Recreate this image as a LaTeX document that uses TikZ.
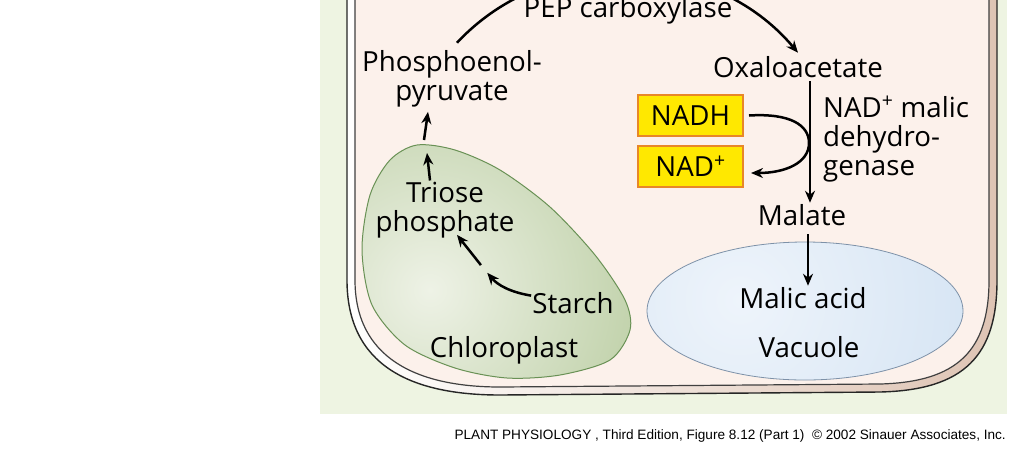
\documentclass[tikz,border=0pt]{standalone}
\usepackage{fontspec}
\setmainfont{Open Sans}
\newfontfamily\creditfont{Liberation Sans}
\usetikzlibrary{arrows.meta}
\definecolor{panelgreen}{RGB}{238,244,226}
\definecolor{cytopink}{RGB}{252,241,235}
\definecolor{walltan}{RGB}{222,196,180}
\definecolor{chlgreen}{RGB}{168,192,138}
\definecolor{chlpale}{RGB}{238,242,230}
\definecolor{chledge}{RGB}{105,145,85}
\definecolor{vacblue}{RGB}{196,217,238}
\definecolor{vacpale}{RGB}{238,244,251}
\definecolor{vacedge}{RGB}{125,145,168}
\definecolor{nadyellow}{RGB}{255,232,0}
\definecolor{nadorange}{RGB}{232,135,40}
\tikzstyle{metab} = [font=\fontsize{27.7}{29}\selectfont, inner sep=1pt, align=center]
\tikzstyle{cofbox} = [draw=nadorange, fill=nadyellow, line width=2pt,
    minimum width=105pt, minimum height=41pt, font=\fontsize{27.7}{29}\selectfont]
\tikzstyle{flow} = [line width=2.5pt, -{Stealth[length=12pt,width=10pt]}]

\begin{document}
\begin{tikzpicture}[x=1pt,y=-1pt]
\useasboundingbox (0,0) rectangle (1024,456);
\clip (0,0) rectangle (1024,456);
% panel and cell
\fill[panelgreen] (320,-1) rectangle (1007,414);
\shade[left color=white, right color=walltan] (347,-10) -- (347,280) .. controls (347,365) and (410,395) .. (500,395)
    -- (880,392) .. controls (965,390) and (997,355) .. (997,280) -- (997,-10) -- cycle;
\fill[cytopink] (355,-10) -- (355,280) .. controls (355,357) and (415,387) .. (500,387)
    -- (880,384) .. controls (958,382) and (989,350) .. (989,280) -- (989,-10) -- cycle;
\draw[line width=1.4pt, black!85] (347,-10) -- (347,280) .. controls (347,365) and (410,395) .. (500,395)
    -- (880,392) .. controls (965,390) and (997,355) .. (997,280) -- (997,-10);
\draw[line width=1.2pt, black!75] (355,-10) -- (355,280) .. controls (355,357) and (415,387) .. (500,387)
    -- (880,384) .. controls (958,382) and (989,350) .. (989,280) -- (989,-10);
% chloroplast
\draw[chledge, line width=1pt, path picture={\shade[inner color=chlpale, outer color=chlgreen] (430,290) circle (330);}]
    plot[smooth cycle] coordinates {(417,145) (455,150) (500,170) (550,207) (595,255) (625,300) (630,330)
    (610,360) (560,375) (507,378) (455,368) (405,345) (372,305) (362,250) (370,195) (390,160)};
% vacuole
\draw[vacedge, line width=0.8pt, path picture={\shade[inner color=vacpale, outer color=vacblue] (740,300) circle (420);}]
    (805,311) ellipse [x radius=158, y radius=69];

\node[metab, anchor=base] (pepc) at (628,17) {PEP carboxylase};
\node[metab, anchor=base] (pep) at (452,100) {Phosphoenol-\\pyruvate};
\node[metab, anchor=base] (oaa) at (798,77) {Oxaloacetate};
\node[cofbox] (nadh) at (690.5,115.5) {NADH};
\node[cofbox] (nad) at (690.5,166) {NAD\textsuperscript{+}};
\node[metab, anchor=base west, align=left] (enz) at (822,175) {NAD\textsuperscript{+} malic\\dehydro-\\genase};
\node[metab, anchor=base] (malate) at (802,225) {Malate};
\node[metab, anchor=base] (triose) at (445,231) {Triose\\phosphate};
\node[metab, anchor=base] (starch) at (573,313) {Starch};
\node[metab, anchor=base] (chl) at (504,357) {Chloroplast};
\node[metab, anchor=base] (malic) at (803,308) {Malic acid};
\node[metab, anchor=base] (vac) at (809,357) {Vacuole};
\node[anchor=base east, inner sep=0pt, font=\creditfont\fontsize{13.6}{16}\selectfont] (credit) at (1006,439)
    {PLANT PHYSIOLOGY , Third Edition, Figure 8.12 (Part 1)\ \ © 2002 Sinauer Associates, Inc.};

\coordinate (envin) at (427,153);
\coordinate (envout) at (424,140);
\coordinate (glc) at (484,269);
% arrows
\draw[flow] ([xshift=5pt,yshift=6pt]pep.north) to[out=47, in=130] ([yshift=2pt]oaa.north);
\draw[flow] ([xshift=-15pt]triose.north) -- (envin);
\draw[flow] (envout) -- ([xshift=-24pt,yshift=-4pt]pep.south);
\draw[flow, shorten >=5pt] ([yshift=7pt]starch.west) to[bend left=20] (glc);
\draw[flow, shorten <=5pt] (glc) -- ([xshift=12pt,yshift=4pt]triose.south);
\draw[flow, shorten <=3pt] ([xshift=12pt]oaa.south) -- ([xshift=8pt]malate.north);
\draw[flow] ([xshift=5pt]nadh.east) .. controls (790,113) and (809,125) .. (809,143)
    .. controls (809,163) and (785,173) .. ([xshift=7pt,yshift=-7pt]nad.east);
\draw[flow, shorten <=8pt] ([xshift=6pt]malate.south) -- ([xshift=5pt]malic.north);
\end{tikzpicture}
\end{document}
